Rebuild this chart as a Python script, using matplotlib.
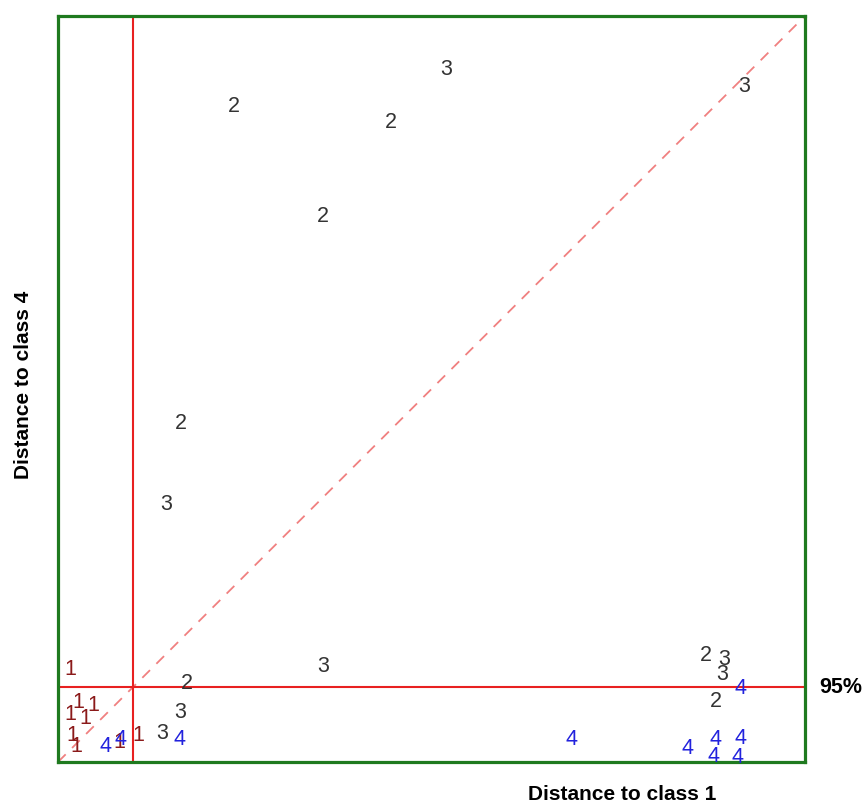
import matplotlib
matplotlib.use("Agg")
import matplotlib.pyplot as plt
from matplotlib import transforms

plt.rcParams['font.family'] = ['Liberation Sans', 'DejaVu Sans']

# distance to class 1 (x) and to class 4 (y), per sample class
class1_x = [0.17, 0.16, 0.27, 0.37, 0.47, 0.19, 0.24, 0.82, 1.08]
class1_y = [1.29, 0.68, 0.84, 0.63, 0.80, 0.40, 0.25, 0.31, 0.40]

class2_x = [2.36, 4.46, 3.55, 1.65, 1.73, 8.67, 8.81]
class2_y = [8.83, 8.61, 7.35, 4.58, 1.10, 1.47, 0.86]

class3_x = [5.19, 9.18, 1.45, 3.55, 1.63, 1.39, 8.92, 8.89]
class3_y = [9.33, 9.10, 3.50, 1.33, 0.71, 0.42, 1.42, 1.21]

class4_x = [0.63, 0.84, 1.63, 6.88, 8.43, 8.80, 8.77, 9.14, 9.09, 9.14]
class4_y = [0.25, 0.34, 0.34, 0.34, 0.23, 0.34, 0.12, 0.36, 0.11, 1.03]

limit_x = 1.0   # 95% limit class 1
limit_y = 1.0   # 95% limit class 4

groups = [
    ("1", class1_x, class1_y, "#8b1a1a"),
    ("2", class2_x, class2_y, "#333333"),
    ("3", class3_x, class3_y, "#333333"),
    ("4", class4_x, class4_y, "#2222dd"),
]

fig = plt.figure(figsize=(8.64, 8.03), dpi=100)
ax = fig.add_axes([58 / 864, 40 / 803, 747 / 864, 746 / 803])
ax.set_xlim(0, 10)
ax.set_ylim(0, 10)

ax.plot([0, 10], [0, 10], color="#f08080", linestyle=(0, (6, 5)), linewidth=1.3)
ax.axvline(limit_x, color="#e82020", linewidth=1.5)
ax.axhline(limit_y, color="#e82020", linewidth=1.5)

fs = 15.5
# baseline placement so the digit's middle sits on the point
trans = transforms.offset_copy(ax.transData, fig=fig, y=-0.36 * fs, units="points")
for label, xs, ys, col in groups:
    for x, y in zip(xs, ys):
        ax.text(x, y, label, color=col, fontsize=fs, ha="center", va="baseline",
                transform=trans)

ax.set_xticks([])
ax.set_yticks([])
for sp in ax.spines.values():
    sp.set_color("#1f7a1f")
    sp.set_linewidth(2.3)

fig.text(622 / 864, 1 - 795 / 803, "Distance to class 1", fontsize=15,
         fontweight="bold", ha="center", va="center")
fig.text(24 / 864, 1 - 385 / 803, "Distance to class 4", fontsize=15,
         fontweight="bold", ha="center", va="center", rotation=90)
fig.text(841 / 864, 1 - 688 / 803, "95%", fontsize=15.5,
         fontweight="bold", ha="center", va="center")

fig.savefig("out.png", dpi=100)
